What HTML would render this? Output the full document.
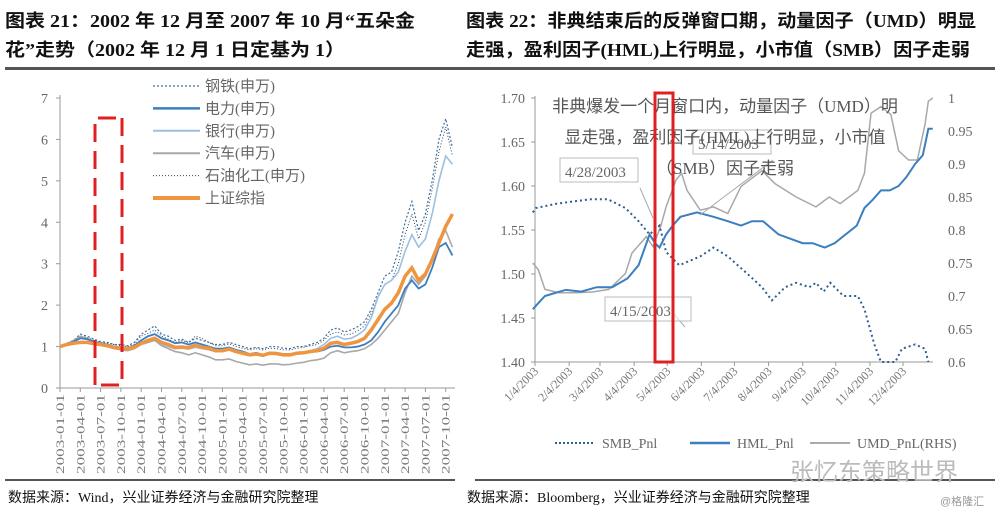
<!DOCTYPE html>
<html><head><meta charset="utf-8"><style>
body{margin:0;background:#fff;}
svg{display:block;font-family:"Liberation Serif","Noto Serif CJK SC",serif;}
.t{font-family:"Liberation Serif","Noto Sans CJK SC",sans-serif;font-weight:bold;font-size:18px;fill:#111;}
.f{font-family:"Liberation Serif","Noto Sans CJK SC",sans-serif;font-size:14px;fill:#111;}
.ax{fill:#666;font-size:14px;}
.xl{fill:#777;font-size:12px;}
.lg{font-family:"Liberation Serif","Noto Sans CJK SC",sans-serif;font-size:15px;fill:#666;}
</style></head><body>
<svg id="s" width="1000" height="516">
<text class="t" x="5" y="27" textLength="410" lengthAdjust="spacingAndGlyphs">图表 21：2002 年 12 月至 2007 年 10 月“五朵金</text>
<text class="t" x="5" y="56" textLength="340" lengthAdjust="spacingAndGlyphs">花”走势（2002 年 12 月 1 日定基为 1）</text>
<text class="t" x="466" y="27" textLength="510" lengthAdjust="spacingAndGlyphs">图表 22：非典结束后的反弹窗口期，动量因子（UMD）明显</text>
<text class="t" x="466" y="56" textLength="504" lengthAdjust="spacingAndGlyphs">走强，盈利因子(HML)上行明显，小市值（SMB）因子走弱</text>
<rect x="5" y="67" width="990" height="3" fill="#555"/>
<rect x="5" y="479" width="450" height="2" fill="#555"/>
<rect x="475" y="479" width="520" height="2" fill="#555"/>
<text class="f" x="8" y="502">数据来源：Wind，兴业证券经济与金融研究院整理</text>
<text class="f" x="467" y="502">数据来源：Bloomberg，兴业证券经济与金融研究院整理</text>
<text x="790" y="480" font-size="24" fill="#bbb" font-family="Liberation Sans,Noto Sans CJK SC,sans-serif">张忆东策略世界</text>
<text x="940" y="505" font-size="11" fill="#999" font-family="Liberation Sans,Noto Sans CJK SC,sans-serif">@格隆汇</text>
<g id="L"></g><g id="R"></g>
</svg>
<script>
// ---- Left chart data (monthly, Jan 2003 .. Nov 2007) ----
const leftTicks=["2003-01-01","2003-04-01","2003-07-01","2003-10-01","2004-01-01","2004-04-01","2004-07-01","2004-10-01","2005-01-01","2005-04-01","2005-07-01","2005-10-01","2006-01-01","2006-04-01","2006-07-01","2006-10-01","2007-01-01","2007-04-01","2007-07-01","2007-10-01"];
const leftYTicks=[0,1,2,3,4,5,6,7];
const sh=[1.00,1.05,1.08,1.10,1.10,1.07,1.05,1.02,0.98,0.96,0.95,0.98,1.08,1.15,1.20,1.10,1.05,0.98,0.99,0.97,1.03,0.98,0.96,0.90,0.90,0.94,0.88,0.84,0.80,0.82,0.79,0.84,0.83,0.80,0.80,0.84,0.85,0.88,0.90,0.96,1.08,1.10,1.05,1.08,1.12,1.20,1.40,1.65,1.90,2.05,2.30,2.70,2.90,2.60,2.75,3.10,3.50,3.90,4.20];
const power=[1.00,1.06,1.12,1.20,1.18,1.12,1.08,1.05,1.00,0.98,0.97,1.02,1.15,1.25,1.30,1.20,1.15,1.08,1.10,1.05,1.10,1.05,1.00,0.95,0.95,0.98,0.92,0.88,0.82,0.85,0.80,0.85,0.85,0.82,0.82,0.85,0.85,0.88,0.88,0.92,1.00,1.02,0.98,0.98,1.00,1.05,1.15,1.35,1.60,1.80,2.00,2.40,2.60,2.40,2.50,2.90,3.40,3.50,3.20];
const bank=[1.00,1.04,1.10,1.22,1.20,1.12,1.06,1.02,0.98,0.95,0.93,0.98,1.08,1.12,1.15,1.05,1.00,0.95,0.96,0.94,0.98,0.95,0.92,0.88,0.88,0.92,0.86,0.82,0.78,0.80,0.78,0.82,0.82,0.80,0.80,0.84,0.86,0.90,0.95,1.05,1.20,1.25,1.18,1.20,1.28,1.40,1.70,2.20,2.50,2.60,2.80,3.30,3.70,3.40,3.60,4.20,5.00,5.60,5.40];
const auto=[1.00,1.06,1.15,1.25,1.20,1.12,1.05,1.00,0.95,0.92,0.90,0.95,1.05,1.10,1.15,1.02,0.95,0.88,0.85,0.80,0.85,0.80,0.75,0.68,0.68,0.70,0.64,0.60,0.56,0.58,0.55,0.58,0.58,0.56,0.57,0.60,0.62,0.66,0.68,0.72,0.85,0.90,0.85,0.88,0.90,0.95,1.05,1.20,1.40,1.60,1.80,2.30,2.70,2.50,2.70,3.10,3.60,3.80,3.40];
const steel=[1.00,1.08,1.15,1.30,1.25,1.18,1.12,1.10,1.05,1.05,1.02,1.10,1.30,1.40,1.50,1.30,1.25,1.15,1.18,1.10,1.20,1.15,1.10,1.05,1.05,1.10,1.05,1.00,0.95,0.98,0.95,1.00,1.00,0.96,0.95,1.00,1.00,1.05,1.10,1.20,1.40,1.45,1.35,1.40,1.48,1.60,1.90,2.30,2.70,2.80,3.30,4.00,4.50,3.80,4.20,5.00,6.00,6.50,5.80];
const petro=[1.00,1.06,1.12,1.25,1.22,1.15,1.10,1.08,1.05,1.02,1.00,1.06,1.25,1.32,1.40,1.25,1.18,1.10,1.15,1.10,1.25,1.20,1.10,1.02,1.02,1.06,1.00,0.96,0.92,0.95,0.92,0.96,0.95,0.92,0.92,0.96,0.98,1.02,1.05,1.15,1.30,1.35,1.28,1.30,1.38,1.50,1.80,2.20,2.50,2.60,3.00,3.70,4.20,3.60,4.00,4.80,5.70,6.30,5.60];
const leftLegend=["钢铁(申万)","电力(申万)","银行(申万)","汽车(申万)","石油化工(申万)","上证综指"];

// ---- Right chart data (day of year 2003) ----
const rightTicks=["1/4/2003","2/4/2003","3/4/2003","4/4/2003","5/4/2003","6/4/2003","7/4/2003","8/4/2003","9/4/2003","10/4/2003","11/4/2003","12/4/2003"];
const rightTickDays=[3,34,62,93,123,154,184,215,246,276,307,337];
const leftAxisTicks=[1.40,1.45,1.50,1.55,1.60,1.65,1.70];
const rightAxisTicks=[0.6,0.65,0.7,0.75,0.8,0.85,0.9,0.95,1];
const hmlDays=[1,12,20,31,45,59,73,87,97,107,112,116,122,128,135,150,165,178,190,200,210,224,235,246,255,266,275,285,295,302,310,317,325,333,340,348,355,360,364];
const hmlVals=[1.46,1.475,1.478,1.482,1.48,1.485,1.485,1.495,1.51,1.545,1.535,1.53,1.545,1.555,1.565,1.57,1.565,1.56,1.555,1.56,1.56,1.545,1.54,1.535,1.535,1.53,1.535,1.545,1.555,1.575,1.585,1.595,1.595,1.60,1.61,1.625,1.635,1.665,1.665];
const smbDays=[1,4,23,54,69,85,97,107,116,122,134,153,165,178,196,209,218,230,240,252,258,265,271,283,296,302,311,317,330,336,348,357,360];
const smbVals=[1.57,1.575,1.58,1.585,1.585,1.575,1.56,1.545,1.555,1.525,1.51,1.52,1.53,1.52,1.50,1.485,1.47,1.485,1.49,1.485,1.49,1.48,1.49,1.475,1.475,1.46,1.42,1.40,1.40,1.415,1.42,1.415,1.40];
const umdDays=[1,6,12,25,40,55,70,85,91,104,110,117,122,131,136,141,153,165,178,190,209,221,240,258,270,280,296,302,308,317,326,333,342,350,357,360,364];
const umdVals=[0.75,0.74,0.71,0.705,0.705,0.706,0.71,0.734,0.765,0.79,0.775,0.805,0.835,0.876,0.886,0.86,0.83,0.835,0.825,0.866,0.89,0.87,0.85,0.835,0.85,0.84,0.86,0.886,0.977,0.987,0.975,0.92,0.906,0.906,0.96,0.995,1.0];

const NS="http://www.w3.org/2000/svg";
function mk(p,tag,attrs){const e=document.createElementNS(NS,tag);for(const k in attrs)e.setAttribute(k,attrs[k]);p.appendChild(e);return e;}

// ---------- Left chart ----------
const L=document.getElementById('L');
const lx=m=>60+m*(20.3/3), ly=v=>388-v*(290/7);
let e=mk(L,'line',{x1:60,y1:95,x2:60,y2:388,stroke:'#999'});


e=mk(L,'line',{x1:60,y1:388,x2:455,y2:388,stroke:'#999'});


leftYTicks.forEach(v=>{
  const t=mk(L,'text',{x:48,y:ly(v)+5,'text-anchor':'end',class:'ax'});t.textContent=v;
  
  
  mk(L,'line',{x1:56,y1:ly(v),x2:60,y2:ly(v),stroke:'#999'});
});
leftTicks.forEach((s,i)=>{
  const x=lx(i*3);
  mk(L,'line',{x1:x,y1:388,x2:x,y2:392,stroke:'#999'});
  const t=mk(L,'text',{x:0,y:0,class:'xl','text-anchor':'end',transform:`translate(${x+4},${394}) rotate(-90)`,textLength:80,lengthAdjust:'spacingAndGlyphs'});t.textContent=s;
  
  
});
const lstyles=[
 {d:steel,c:'#3f6f9f',w:1.2,da:'2,2',n:'series-steel'},
 {d:petro,c:'#2a4060',w:1,da:'1,2',n:'series-petrochem'},
 {d:bank,c:'#9cc0e0',w:1.6,da:'',n:'series-bank'},
 {d:auto,c:'#a8a8a8',w:1.6,da:'',n:'series-auto'},
 {d:power,c:'#3a7fc0',w:1.8,da:'',n:'series-power'},
 {d:sh,c:'#f0953f',w:3.5,da:'',n:'series-shanghai-index'}];
lstyles.forEach(s=>{
  const p=mk(L,'polyline',{points:s.d.map((v,i)=>lx(i)+','+ly(v)).join(' '),fill:'none',stroke:s.c,'stroke-width':s.w,'stroke-dasharray':s.da});
  
  
});
const legStyles=[{c:'#3f6f9f',w:1.2,da:'2,2'},{c:'#3a7fc0',w:2.5,da:''},{c:'#9cc0e0',w:2,da:''},{c:'#a8a8a8',w:2,da:''},{c:'#2a4060',w:1,da:'1,2'},{c:'#f0953f',w:4,da:''}];
leftLegend.forEach((s,i)=>{
  const y=86+i*22.4;
  mk(L,'line',{x1:153,y1:y,x2:200,y2:y,stroke:legStyles[i].c,'stroke-width':legStyles[i].w,'stroke-dasharray':legStyles[i].da});
  const t=mk(L,'text',{x:205,y:y+5,class:'lg'});t.textContent=s;
  
  
});
e=mk(L,'path',{d:'M95,385 L95,118 L124,118 M122,118 L122,385 L95,385',fill:'none',stroke:'#e02020','stroke-width':3,'stroke-dasharray':'18,9'});



// ---------- Right chart ----------
const R=document.getElementById('R');
const rx=d=>535+(d-3)*(368/334), ryl=v=>362-(v-1.4)*(264/0.3), ryr=v=>362-(v-0.6)*(264/0.4);
e=mk(R,'line',{x1:535,y1:96,x2:535,y2:362,stroke:'#999'});


e=mk(R,'line',{x1:535,y1:362,x2:933,y2:362,stroke:'#999'});


leftAxisTicks.forEach(v=>{
  const t=mk(R,'text',{x:525,y:ryl(v)+5,'text-anchor':'end',class:'ax'});t.textContent=v.toFixed(2);
  
  
  mk(R,'line',{x1:531,y1:ryl(v),x2:535,y2:ryl(v),stroke:'#999'});
});
rightAxisTicks.forEach(v=>{
  const t=mk(R,'text',{x:948,y:ryr(v)+5,class:'ax'});t.textContent=v;
  
  
});
rightTicks.forEach((s,i)=>{
  const x=rx(rightTickDays[i]);
  mk(R,'line',{x1:x,y1:362,x2:x,y2:366,stroke:'#999'});
  const t=mk(R,'text',{x:0,y:0,class:'xl','font-size':13,'text-anchor':'end',transform:`translate(${x+4},${372}) rotate(-45)`});t.textContent=s;
  
  
});
function clipL(v){return Math.max(1.398,v);}
e=mk(R,'polyline',{points:umdDays.map((d,i)=>rx(d)+','+ryr(umdVals[i])).join(' '),fill:'none',stroke:'#a8a8a8','stroke-width':1.5});


e=mk(R,'polyline',{points:smbDays.map((d,i)=>rx(d)+','+ryl(clipL(smbVals[i]))).join(' '),fill:'none',stroke:'#2f5f8f','stroke-width':2,'stroke-dasharray':'2,3'});


e=mk(R,'polyline',{points:hmlDays.map((d,i)=>rx(d)+','+ryl(hmlVals[i])).join(' '),fill:'none',stroke:'#3a7fc0','stroke-width':2});


// callouts
[[560,176,'4/28/2003',653,218],[605,315,'4/15/2003,',672,312],[693,148,'5/14/2003',700,215]].forEach(c=>{
  mk(R,'line',{x1:c[0]+80,y1:c[1]+12,x2:c[3],y2:c[4],stroke:'#aaa'});
  const r=mk(R,'rect',{x:c[0],y:c[1]-18,width:c[2].length*8+6,height:24,fill:'rgba(255,255,255,0.6)',stroke:'#bbb'});
  const t=mk(R,'text',{x:c[0]+5,y:c[1]+1,'font-size':15,fill:'#666'});t.textContent=c[2];
  
  
});
['非典爆发一个月窗口内，动量因子（UMD）明','显走强，盈利因子(HML)上行明显，小市值','（SMB）因子走弱'].forEach((s,i)=>{
  const t=mk(R,'text',{x:725,y:112+i*31,'text-anchor':'middle','font-size':17,fill:'#555','font-family':'Liberation Serif,Noto Sans CJK SC,sans-serif'});t.textContent=s;
  
  
});
e=mk(R,'rect',{x:655,y:93,width:18,height:269,fill:'none',stroke:'#e02020','stroke-width':3});


[['SMB_Pnl',555,'#2f5f8f','2,2',2],['HML_Pnl',690,'#3a7fc0','',2.5],['UMD_PnL(RHS)',810,'#aaa','',2]].forEach(l=>{
  mk(R,'line',{x1:l[1],y1:443,x2:l[1]+40,y2:443,stroke:l[2],'stroke-dasharray':l[3],'stroke-width':l[4]});
  const t=mk(R,'text',{x:l[1]+47,y:448,'font-size':14,fill:'#666'});t.textContent=l[0];
  
  
});
</script>
</body></html>
